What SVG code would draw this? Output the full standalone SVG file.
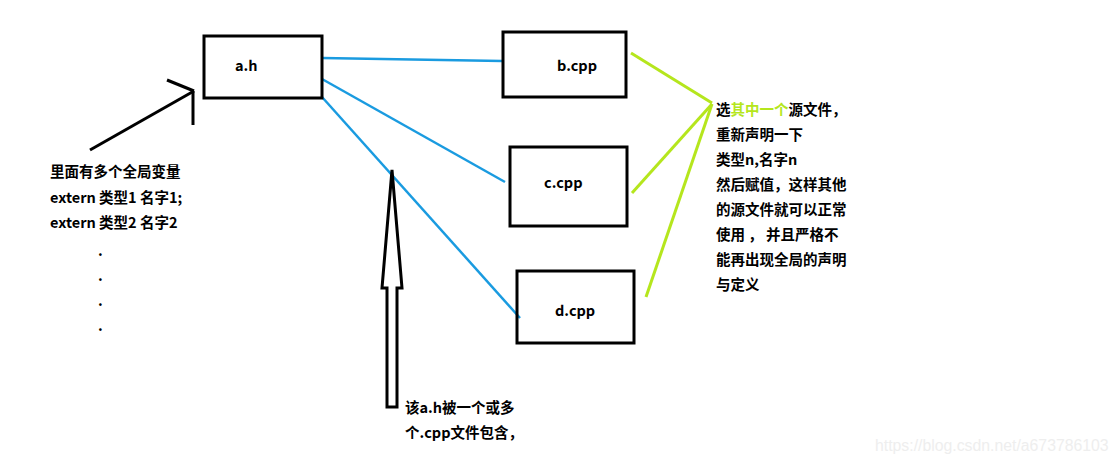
<svg xmlns="http://www.w3.org/2000/svg" width="1118" height="466" viewBox="0 0 1118 466">
<style>
.box{fill:none;stroke:#000;stroke-width:3}
.t{font-family:"Noto Sans CJK SC","Liberation Sans",sans-serif;font-weight:bold;font-size:14.5px;fill:#000}
.blue{stroke:#1a9be0;stroke-width:2.5;fill:none}
.green{stroke:#b5e61d;stroke-width:3;fill:none}
.blk{stroke:#000;stroke-width:3;fill:none}
</style>
<rect width="1118" height="466" fill="#fff"/>
<g id="connectors">
<line class="blue" x1="322" y1="58" x2="502" y2="61"/>
<line class="blue" x1="322" y1="79" x2="505" y2="182"/>
<line class="blue" x1="322" y1="97" x2="520" y2="318"/>
<line class="green" x1="631" y1="53" x2="712" y2="103"/>
<line class="green" x1="632" y1="193" x2="712" y2="104"/>
<line class="green" x1="646" y1="297" x2="712" y2="104"/>
<g id="arrow-left">
<line class="blk" x1="90" y1="150" x2="194" y2="91"/>
<line class="blk" x1="167" y1="80" x2="194" y2="91"/>
<line class="blk" x1="193" y1="91" x2="193" y2="125"/>
</g>
<path id="arrow-up" class="blk" d="M392 170 L402 288 L397 288 L397 407 L387 407 L387 288 L382 288 Z"/>
</g>
<g id="node-ah"><rect class="box" x="204" y="36" width="118" height="62"/><text class="t" x="235" y="71">a.h</text></g>
<g id="node-b"><rect class="box" x="503" y="32" width="123" height="65"/><text class="t" x="557" y="71">b.cpp</text></g>
<g id="node-c"><rect class="box" x="510" y="147" width="117" height="79"/><text class="t" x="544" y="188">c.cpp</text></g>
<g id="node-d"><rect class="box" x="517" y="271" width="117" height="72"/><text class="t" x="555" y="316">d.cpp</text></g>
<g id="note-left">
<text class="t" x="50" y="177">里面有多个全局变量</text>
<text class="t" x="50" y="203">extern 类型1 名字1;</text>
<text class="t" x="50" y="228">extern 类型2 名字2</text>
<text class="t" x="98" y="256">.</text>
<text class="t" x="98" y="281">.</text>
<text class="t" x="98" y="306">.</text>
<text class="t" x="98" y="331">.</text>
</g>
<g id="note-right">
<text class="t" x="716" y="115">选<tspan fill="#b5e61d">其中一个</tspan>源文件，</text>
<text class="t" x="716" y="140">重新声明一下</text>
<text class="t" x="716" y="165">类型n,名字n</text>
<text class="t" x="716" y="190">然后赋值，这样其他</text>
<text class="t" x="716" y="215">的源文件就可以正常</text>
<text class="t" x="716" y="240">使用 ， 并且严格不</text>
<text class="t" x="716" y="265">能再出现全局的声明</text>
<text class="t" x="716" y="290">与定义</text>
</g>
<g id="note-bottom">
<text class="t" x="405" y="413">该a.h被一个或多</text>
<text class="t" x="405" y="438">个.cpp文件包含，</text>
</g>
<text x="875" y="451" font-family="Liberation Sans,sans-serif" font-size="15.8" fill="#eeeeee">https://blog.csdn.net/a673786103</text>
</svg>
